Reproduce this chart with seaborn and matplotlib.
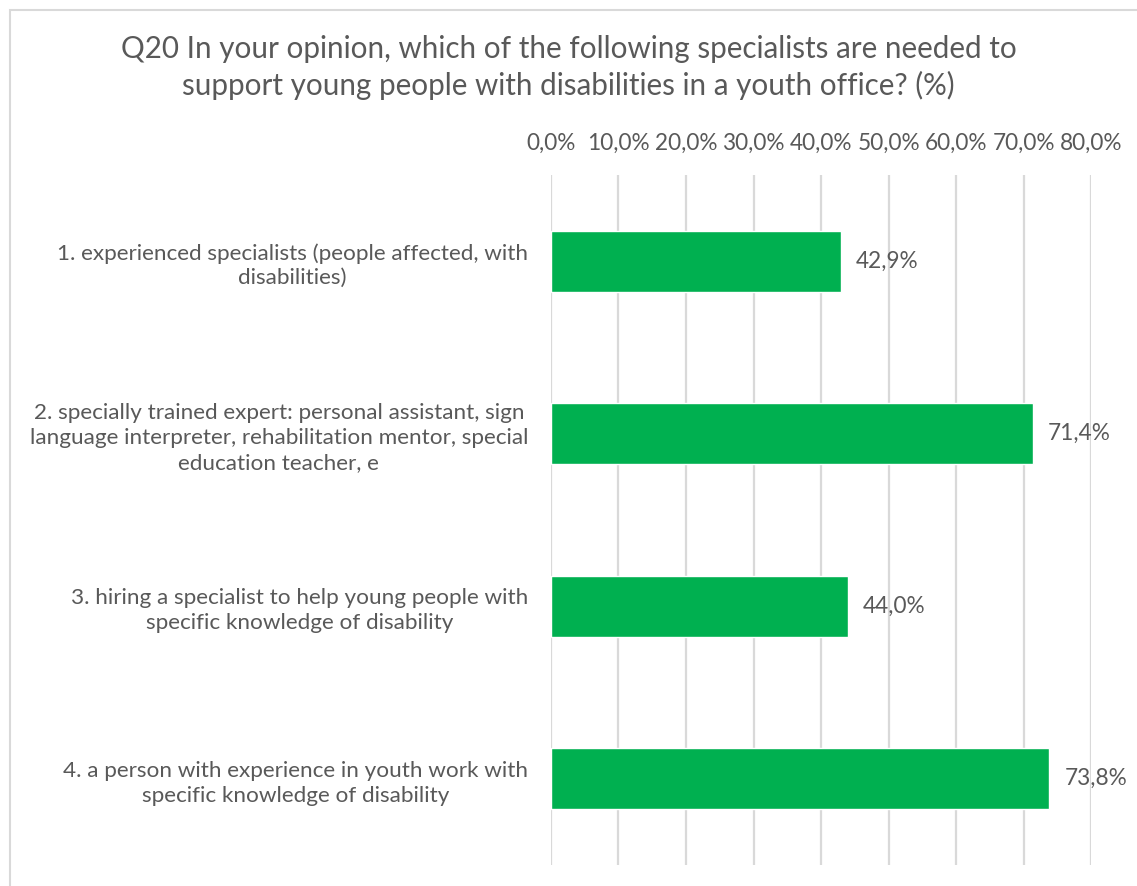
import matplotlib
matplotlib.use("Agg")
import matplotlib.pyplot as plt
import seaborn as sns
import pandas as pd
from matplotlib.patches import Rectangle

categories = [
    "1. experienced specialists (people affected, with\ndisabilities)",
    "2. specially trained expert: personal assistant, sign\nlanguage interpreter, rehabilitation mentor, special\neducation teacher, e",
    "3. hiring a specialist to help young people with\nspecific knowledge of disability",
    "4. a person with experience in youth work with\nspecific knowledge of disability",
]
values = [42.9, 71.4, 44.0, 73.8]
ticks = [0, 10, 20, 30, 40, 50, 60, 70, 80]
title = ("Q20 In your opinion, which of the following specialists are needed to\n"
         "support young people with disabilities in a youth office? (%)")

sns.set_theme(style="white")
plt.rcParams["font.family"] = ["Lato", "DejaVu Sans"]

TXT = "#595959"
GREEN = "#00B050"
GRID = "#D9D9D9"

df = pd.DataFrame({"category": categories, "value": values})

fig = plt.figure(figsize=(11.37, 8.86), dpi=100)
ax = fig.add_axes([0.4846, 0.0237, 0.4750, 0.7788])

sns.barplot(data=df, x="value", y="category", orient="h", color=GREEN,
            saturation=1, width=0.355, ax=ax)

ax.set_xlim(0, 80)
ax.set_ylim(3.5, -0.5)
ax.set_xticks(ticks)
ax.set_xticklabels([f"{t:.1f}%".replace(".", ",") for t in ticks])
ax.xaxis.tick_top()
ax.tick_params(axis="x", length=0, pad=15, labelsize=16.3, colors=TXT)
ax.tick_params(axis="y", length=0, pad=16.5, labelsize=16.2, colors=TXT)
for lab in ax.get_yticklabels():
    lab.set_multialignment("center")
    lab.set_linespacing(1.3)
ax.set_xlabel("")
ax.set_ylabel("")
ax.grid(axis="x", color=GRID, linewidth=1.6)
ax.set_axisbelow(True)
for s in ax.spines.values():
    s.set_visible(False)

for i, v in enumerate(values):
    ax.text(v + 2.25, i, f"{v:.1f}%".replace(".", ","), va="center", ha="left",
            fontsize=16.3, color=TXT)

fig.text(0.5, 0.924, title, ha="center", va="center", fontsize=21.3,
         color=TXT, linespacing=1.3)

fig.patches.append(Rectangle((10 / 1137, -0.1), 1.2, 1 - 10 / 886 + 0.1,
                             transform=fig.transFigure, fill=False,
                             edgecolor="#D9D9D9", linewidth=1.5))

fig.savefig("out.png", dpi=100)
